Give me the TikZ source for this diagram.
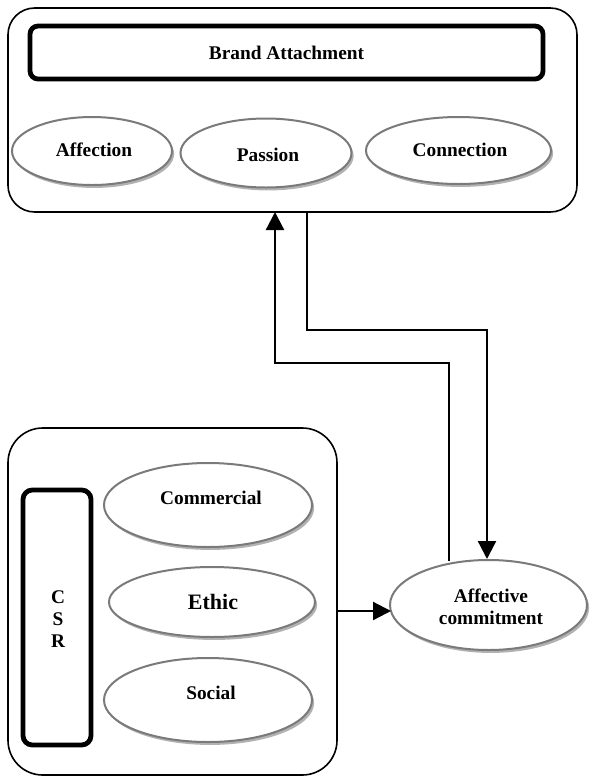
\documentclass[tikz,border=0pt]{standalone}
\usepackage{fontspec}
\setmainfont{Liberation Serif}
\usetikzlibrary{arrows.meta,shapes.geometric,shadows}
\newcommand{\pxu}{0.75pt}
\begin{document}
\begin{tikzpicture}[x=0.75pt,y=-0.75pt,
  box/.style={draw=black,line width=1.2pt,rounded corners=20pt,inner sep=0pt,outer sep=0pt},
  thickbar/.style={draw=black,line width=3.6pt,rounded corners=6pt,inner sep=0pt,outer sep=0pt},
  oval/.style={ellipse,draw=black!52,line width=1.5pt,fill=white,inner sep=0pt,outer sep=0pt,
    drop shadow={shadow xshift=1.6pt,shadow yshift=-2.2pt,fill=black!30,opacity=1}},
  lbl/.style={font=\bfseries\fontsize{14.5}{16.5}\selectfont,align=center,inner sep=0pt},
  arr/.style={line width=1.7pt,-{Triangle[length=13.5pt,width=13.5pt]}},
  ln/.style={line width=1.7pt}]
\useasboundingbox (0,0) rectangle (591,776);

% top group
\node[box,minimum width=569*\pxu,minimum height=204*\pxu] (topbox) at (292.5,110) {};
\node[thickbar,minimum width=513*\pxu,minimum height=53*\pxu] (brand) at (286.5,52.5) {};
\node[lbl] (brandt) at (286.5,53) {Brand Attachment};
\node[oval,minimum width=160*\pxu,minimum height=68*\pxu] (affe) at (92,151) {};
\node[lbl] (affet) at (94,150) {Affection};
\node[oval,minimum width=171*\pxu,minimum height=69*\pxu] (pass) at (266,153) {};
\node[lbl] (passt) at (268,155) {Passion};
\node[oval,minimum width=185*\pxu,minimum height=67*\pxu] (conn) at (458.5,150.5) {};
\node[lbl] (connt) at (460,150) {Connection};

% bottom group
\node[box,rounded corners=26pt,minimum width=329*\pxu,minimum height=347*\pxu] (botbox) at (172.5,601.5) {};
\node[thickbar,rounded corners=7pt,minimum width=68*\pxu,minimum height=255*\pxu] (csr) at (57,617.5) {};
\node[lbl] (csrt) at (58,619) {C\\S\\R};
\node[oval,minimum width=208*\pxu,minimum height=84*\pxu] (comm) at (208,505) {};
\node[lbl] (commt) at (211,498) {Commercial};
\node[oval,minimum width=206*\pxu,minimum height=70*\pxu] (ethi) at (212,602) {};
\node[lbl,font=\bfseries\fontsize{16.5}{18}\selectfont] (ethit) at (213,602) {Ethic};
\node[oval,minimum width=208*\pxu,minimum height=84*\pxu] (soci) at (208,700) {};
\node[lbl] (socit) at (211,693) {Social};

% affective commitment
\node[oval,minimum width=197*\pxu,minimum height=90*\pxu] (aff) at (488.5,605) {};
\node[lbl] (afft) at (491,607) {Affective\\commitment};

% connectors
\coordinate (upstart) at (449,561);
\coordinate (upbend1) at (449,363);
\coordinate (upbend2) at (275,363);
\coordinate (upend) at (275,212);
\draw[arr] (upstart) -- (upbend1) -- (upbend2) -- (upend);

\coordinate (dnstart) at (307,212);
\coordinate (dnbend1) at (307,330);
\coordinate (dnbend2) at (487,330);
\coordinate (dnend) at (487,559);
\draw[arr] (dnstart) -- (dnbend1) -- (dnbend2) -- (dnend);

\coordinate (hstart) at (337,611);
\coordinate (hend) at (391,611);
\draw[arr] (hstart) -- (hend);
\end{tikzpicture}
\end{document}
